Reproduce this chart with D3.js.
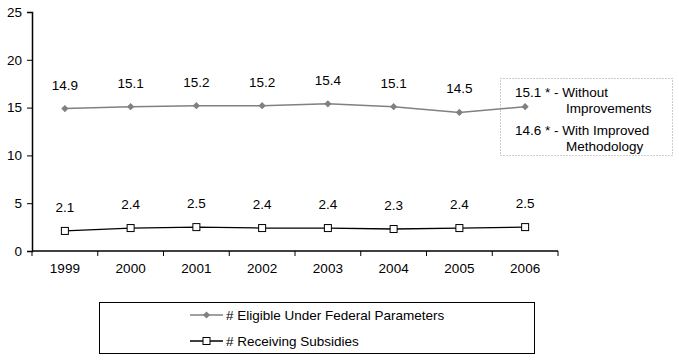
<!DOCTYPE html>
<html><head><meta charset="utf-8">
<script src="https://cdn.jsdelivr.net/npm/d3@7"></script>
<style>
html,body{margin:0;padding:0;background:#fff;}
text{font-family:"Liberation Sans",Arial,sans-serif;font-size:13.5px;fill:#000;}
</style></head>
<body><svg id="c" width="679" height="360"></svg>
<script>
const years = ["1999","2000","2001","2002","2003","2004","2005","2006"];
const eligible = [14.9,15.1,15.2,15.2,15.4,15.1,14.5,15.1];
const subsidies = [2.1,2.4,2.5,2.4,2.4,2.3,2.4,2.5];
const yTicks = [0,5,10,15,20,25];
const seriesNames = ["# Eligible Under Federal Parameters","# Receiving Subsidies"];
const noteLines = [["15.1 * - Without","Improvements"],["14.6 * - With Improved","Methodology"]];

const svg = d3.select("#c");
const x = d3.scaleBand().domain(years).range([32,558]);
const y = d3.scaleLinear().domain([0,25]).range([251,12]);
const cx = d => x(d) + x.bandwidth()/2;

// axes
const ya = svg.append("g").attr("transform","translate(32,0)")
  .call(d3.axisLeft(y).tickValues(yTicks).tickSize(5).tickPadding(5));
const xa = svg.append("g").attr("transform","translate(0,251)")
  .call(d3.axisBottom(x).tickSize(0).tickPadding(12));
xa.selectAll(".tick text").attr("font-size",13.5).attr("font-family","Liberation Sans, Arial");
ya.selectAll(".tick text").attr("font-size",13.5).attr("font-family","Liberation Sans, Arial");
[ya,xa].forEach(g=>{g.select(".domain").attr("stroke","#000").attr("stroke-width",1.5);g.selectAll("line").attr("stroke","#000");});
xa.select(".domain").attr("d","M32,0H558");
// x tick marks at band edges
svg.append("g").selectAll("line").data(years.concat(["end"])).join("line")
  .attr("x1",(d,i)=> i<years.length ? x(d) : x(years[years.length-1])+x.bandwidth())
  .attr("x2",(d,i)=> i<years.length ? x(d) : x(years[years.length-1])+x.bandwidth())
  .attr("y1",251).attr("y2",256).attr("stroke","#000");

const line = d3.line().x((d,i)=>cx(years[i])).y(d=>y(d));
svg.append("path").datum(eligible).attr("d",line).attr("fill","none").attr("stroke","#808080").attr("stroke-width",1.5);
svg.append("path").datum(subsidies).attr("d",line).attr("fill","none").attr("stroke","#000").attr("stroke-width",1.3);

svg.append("g").selectAll("path").data(eligible).join("path")
  .attr("transform",(d,i)=>`translate(${cx(years[i])},${y(d)}) rotate(45)`)
  .attr("d",d3.symbol().type(d3.symbolSquare).size(26)).attr("fill","#808080");
svg.append("g").selectAll("rect").data(subsidies).join("rect")
  .attr("x",(d,i)=>cx(years[i])-3.5).attr("y",d=>y(d)-3.5).attr("width",7).attr("height",7)
  .attr("fill","#fff").attr("stroke","#000").attr("stroke-width",1);

// data labels
svg.append("g").selectAll("text").data(eligible.slice(0,7)).join("text")
  .attr("x",(d,i)=>cx(years[i])).attr("y",d=>y(d)-19).attr("text-anchor","middle").text(d=>d.toFixed(1));
svg.append("g").selectAll("text").data(subsidies).join("text")
  .attr("x",(d,i)=>cx(years[i])).attr("y",d=>y(d)-19).attr("text-anchor","middle").text(d=>d.toFixed(1));

// annotation box
svg.append("rect").attr("x",500.5).attr("y",78.5).attr("width",172).attr("height",77)
  .attr("fill","none").attr("stroke","#999").attr("stroke-dasharray","1,2");
const nb = [97,113,135,151];
noteLines.forEach((ls,j)=>{
  svg.append("text").attr("x",515).attr("y",nb[j*2]).text(ls[0]);
  svg.append("text").attr("x",566).attr("y",nb[j*2+1]).text(ls[1]);
});

// legend
svg.append("rect").attr("x",99.5).attr("y",302.5).attr("width",435).attr("height",51)
  .attr("fill","none").attr("stroke","#000");
const lg = svg.append("g");
[315,341].forEach((ly,i)=>{
  lg.append("line").attr("x1",190).attr("x2",223).attr("y1",ly).attr("y2",ly)
    .attr("stroke", i===0?"#808080":"#000").attr("stroke-width", i===0?1.5:1.3);
  if(i===0){
    lg.append("path").attr("transform",`translate(206.5,${ly}) rotate(45)`)
      .attr("d",d3.symbol().type(d3.symbolSquare).size(26)).attr("fill","#808080");
  } else {
    lg.append("rect").attr("x",203).attr("y",ly-3.5).attr("width",7).attr("height",7)
      .attr("fill","#fff").attr("stroke","#000");
  }
  lg.append("text").attr("x",226).attr("y",ly+4.5).text(seriesNames[i]);
});
</script></body></html>
